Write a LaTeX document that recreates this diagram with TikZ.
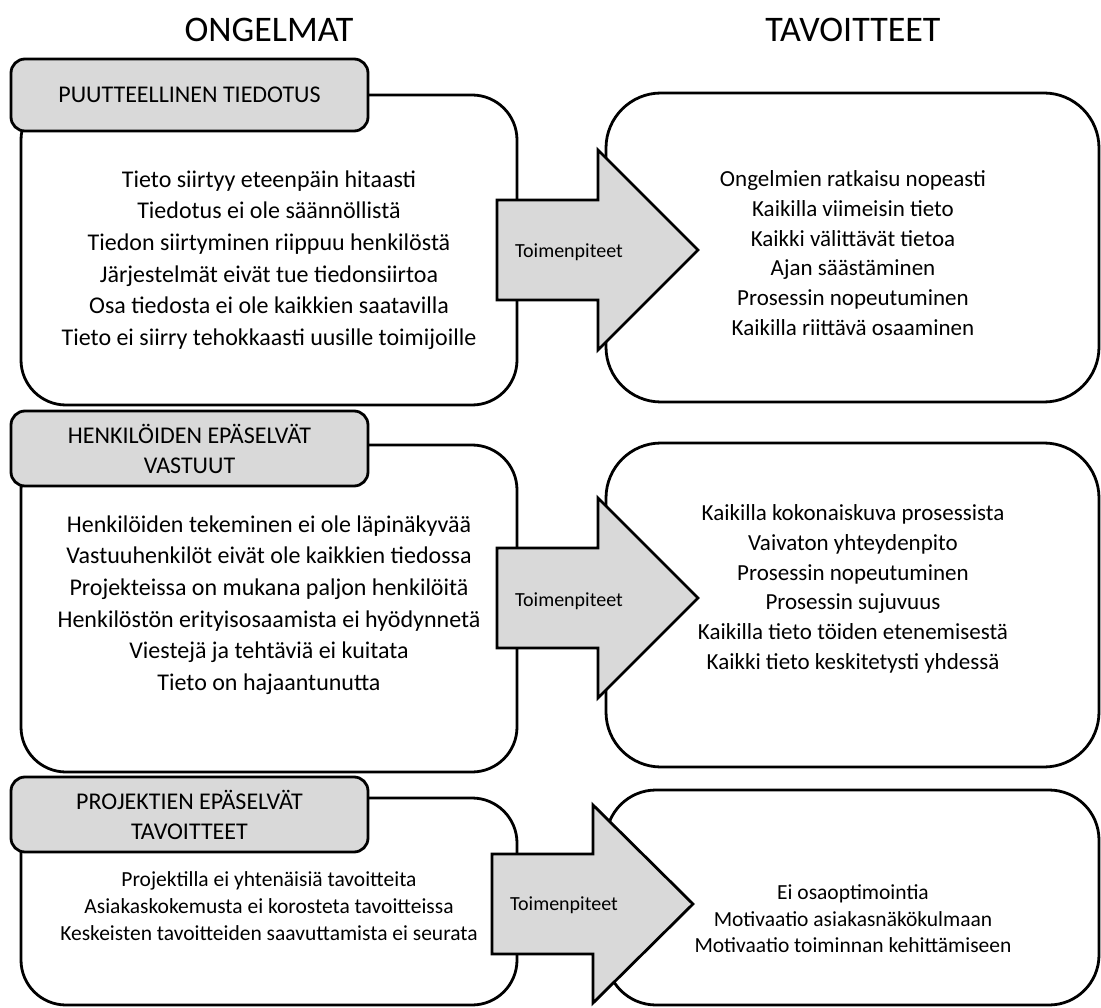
\documentclass[tikz,border=0pt]{standalone}
\usepackage{fontspec}
\setmainfont{Carlito}
\definecolor{tabgray}{HTML}{D9D9D9}
\begin{document}
\begin{tikzpicture}[x=1pt,y=-1pt,
  outline/.style={draw=black, line width=2.8pt},
  panel/.style={outline, fill=white, rounded corners=45pt, inner sep=0pt},
  goal/.style={outline, fill=white, rounded corners=55pt, inner sep=0pt},
  tab/.style={outline, fill=tabgray, rounded corners=14pt, inner sep=0pt, align=center,
    font=\fontsize{24}{30}\selectfont},
  bigarrow/.style={outline, fill=tabgray, line join=miter},
  heading/.style={font=\fontsize{36}{40}\selectfont, inner sep=0pt},
  lefttext/.style={align=center, inner sep=0pt, font=\fontsize{24}{31.6}\selectfont},
  righttext/.style={align=center, inner sep=0pt, font=\fontsize{23}{29.7}\selectfont},
  smalltext/.style={align=center, inner sep=0pt, font=\fontsize{21.5}{27}\selectfont},
  actlabel/.style={anchor=west, inner sep=0pt, font=\fontsize{20}{24}\selectfont}]

\fill[white] (0,0) rectangle (1101,1008);
\useasboundingbox (0,0) rectangle (1101,1008);

% column headings
\node[heading] (hl) at (269,30) {ONGELMAT};
\node[heading] (hr) at (853,30) {TAVOITTEET};

% ---------- row 1 ----------
\node[panel, minimum width=496pt, minimum height=310pt] (p1) at (269,250) {};
\node[tab, minimum width=357pt, minimum height=72pt] (t1) at (189.5,95) {PUUTTEELLINEN TIEDOTUS};
\node[goal, minimum width=493pt, minimum height=309pt] (g1) at (852.5,247.5) {};
\path[bigarrow] (497,200) -- (598,200) -- (598,150) -- (698,250) -- (598,350) -- (598,300) -- (497,300) -- cycle;
\node[actlabel] (a1) at (515,252) {Toimenpiteet};
\node[lefttext] (pt1) at (269,260) {Tieto siirtyy eteenpäin hitaasti\\Tiedotus ei ole säännöllistä\\Tiedon siirtyminen riippuu henkilöstä\\Järjestelmät eivät tue tiedonsiirtoa\\Osa tiedosta ei ole kaikkien saatavilla\\Tieto ei siirry tehokkaasti uusille toimijoille};
\node[righttext] (gt1) at (853,253) {Ongelmien ratkaisu nopeasti\\Kaikilla viimeisin tieto\\Kaikki välittävät tietoa\\Ajan säästäminen\\Prosessin nopeutuminen\\Kaikilla riittävä osaaminen};

% ---------- row 2 ----------
\node[panel, minimum width=496pt, minimum height=327pt] (p2) at (269,608.5) {};
\node[tab, minimum width=357pt, minimum height=75pt] (t2) at (189.5,448.5) {HENKILÖIDEN EPÄSELVÄT\\VASTUUT};
\node[goal, minimum width=493pt, minimum height=324pt] (g2) at (852.5,605) {};
\path[bigarrow] (497,548) -- (598,548) -- (598,498) -- (698,598) -- (598,698) -- (598,648) -- (497,648) -- cycle;
\node[actlabel] (a2) at (515,601) {Toimenpiteet};
\node[lefttext] (pt2) at (269,605) {Henkilöiden tekeminen ei ole läpinäkyvää\\Vastuuhenkilöt eivät ole kaikkien tiedossa\\Projekteissa on mukana paljon henkilöitä\\Henkilöstön erityisosaamista ei hyödynnetä\\Viestejä ja tehtäviä ei kuitata\\Tieto on hajaantunutta};
\node[righttext] (gt2) at (853,589) {Kaikilla kokonaiskuva prosessista\\Vaivaton yhteydenpito\\Prosessin nopeutuminen\\Prosessin sujuvuus\\Kaikilla tieto töiden etenemisestä\\Kaikki tieto keskitetysti yhdessä};

% ---------- row 3 ----------
\node[panel, minimum width=496pt, minimum height=207pt] (p3) at (269,901.5) {};
\node[tab, minimum width=357pt, minimum height=75pt] (t3) at (189.5,814.5) {PROJEKTIEN EPÄSELVÄT\\TAVOITTEET};
\node[goal, minimum width=493pt, minimum height=215pt, rounded corners=50pt] (g3) at (852.5,897.5) {};
\path[bigarrow] (492,854) -- (593,854) -- (593,805) -- (693,904) -- (593,1003) -- (593,954) -- (492,954) -- cycle;
\node[actlabel] (a3) at (510,905) {Toimenpiteet};
\node[smalltext] (pt3) at (269,906) {Projektilla ei yhtenäisiä tavoitteita\\Asiakaskokemusta ei korosteta tavoitteissa\\Keskeisten tavoitteiden saavuttamista ei seurata};
\node[smalltext, font=\fontsize{21.5}{26.5}\selectfont] (gt3) at (853,919) {Ei osaoptimointia\\Motivaatio asiakasnäkökulmaan\\Motivaatio toiminnan kehittämiseen};

\end{tikzpicture}
\end{document}
